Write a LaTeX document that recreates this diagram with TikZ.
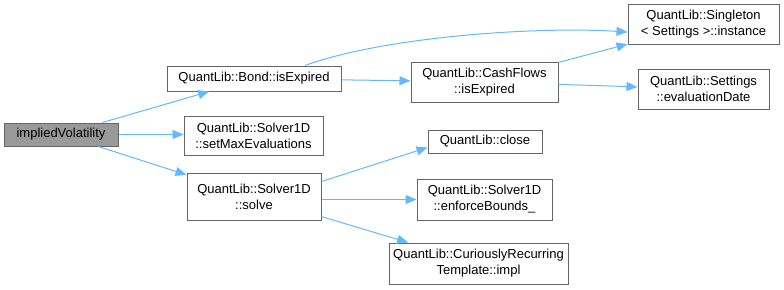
\documentclass[tikz,border=0pt]{standalone}
\usepackage{fontspec}
\setmainfont{Liberation Sans}
\usetikzlibrary{arrows.meta}
\definecolor{edgeblue}{HTML}{63B8FF}
\definecolor{boxgray}{HTML}{666666}
\definecolor{rootfill}{HTML}{999999}
\begin{document}
\begin{tikzpicture}[x=1pt,y=-1pt,
  fn/.style={draw=boxgray,line width=1pt,fill=white,inner sep=0pt,align=center,
    font=\fontsize{13}{16}\selectfont},
  root/.style={fn,fill=rootfill},
  edge/.style={draw=edgeblue,line width=1pt,-{Triangle[length=11pt,width=9pt]}}]
\useasboundingbox (0,0) rectangle (784,289);

\node[root,minimum width=114pt,minimum height=23pt] (iv) at (61,134.5) {impliedVolatility};
\node[fn,minimum width=174pt,minimum height=25pt] (bond) at (254,78.5) {QuantLib::Bond::isExpired};
\node[fn,minimum width=139pt,minimum height=39pt] (smax) at (253.5,135.5) {QuantLib::Solver1D\\::setMaxEvaluations};
\node[fn,minimum width=134pt,minimum height=47pt] (solve) at (254,196.5) {QuantLib::Solver1D\\::solve};
\node[fn,minimum width=147pt,minimum height=40pt] (cf) at (484.5,82) {QuantLib::CashFlows\\::isExpired};
\node[fn,minimum width=131pt,minimum height=40pt] (evd) at (703.5,89) {QuantLib::Settings\\::evaluationDate};
\node[fn,minimum width=151pt,minimum height=40pt] (single) at (703.5,24) {QuantLib::Singleton\\< Settings >::instance};
\node[fn,minimum width=114pt,minimum height=23pt] (close) at (485,141.5) {QuantLib::close};
\node[fn,minimum width=135pt,minimum height=41pt] (enf) at (484.5,199.5) {QuantLib::Solver1D\\::enforceBounds\_};
\node[fn,minimum width=179pt,minimum height=41pt] (crt) at (478.5,263.5) {QuantLib::CuriouslyRecurring\\Template::impl};

\draw[edge] (iv) -- (bond);
\draw[edge] (iv.east) -- (iv.east -| smax.west);
\draw[edge] (iv) -- (solve);
\draw[edge] ([xshift=51pt]bond.north) .. controls (380,38) and (530,26) .. ([yshift=-8pt]single.west);
\draw[edge] (bond) -- (cf);
\draw[edge] (cf) -- (single);
\draw[edge] (cf) -- (evd);
\draw[edge] ([yshift=15pt]solve.east) -- ([yshift=-6pt]close.west);
\draw[edge] (solve.east |- enf.west) -- (enf.west);
\draw[edge] (solve) -- (crt);
\end{tikzpicture}
\end{document}
